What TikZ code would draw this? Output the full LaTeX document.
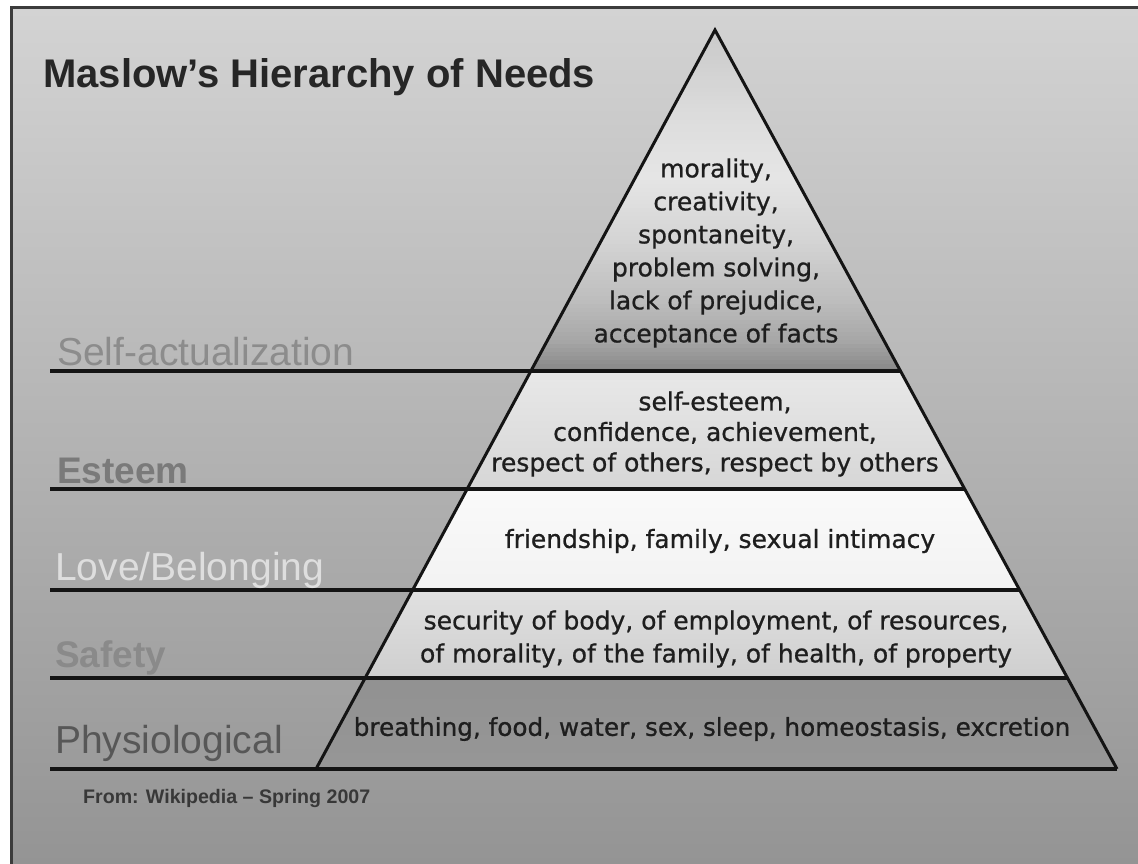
\documentclass[tikz,border=0pt]{standalone}
\usepackage{fontspec}
\setmainfont{Liberation Sans}
\newfontfamily\bandfont[FakeBold=0.8]{DejaVu Sans}
\usetikzlibrary{calc}

\definecolor{framegray}{HTML}{3C3C3C}
\definecolor{bgtop}{HTML}{D3D3D3}
\definecolor{bgbottom}{HTML}{949494}
\definecolor{inktext}{HTML}{1E1E1E}
\definecolor{titleink}{HTML}{262626}

\begin{document}
\begin{tikzpicture}[x=1pt,y=-1pt,
  rule/.style={line width=4.5pt, draw=black!92, line cap=butt},
  edge/.style={line width=3pt, draw=black!92, line join=miter},
  bandtext/.style={font=\bandfont\fontsize{25}{33}\selectfont, text=inktext, align=center, inner sep=0pt},
  levellabel/.style={anchor=base west, inner sep=0pt, font=\fontsize{39}{39}\selectfont},
  boldlabel/.style={anchor=base west, inner sep=0pt, font=\bfseries\fontsize{37}{37}\selectfont},
]
\useasboundingbox (0,0) rectangle (1138,864);

% page, gradient background and dark frame
\fill[white] (0,0) rectangle (1138,864);
\shade[top color=bgtop, bottom color=bgbottom] (13,9) rectangle (1138,864);
\fill[framegray] (10,6) rectangle (1138,9);
\fill[framegray] (10,6) rectangle (13,864);

% pyramid corners and the points where each level meets its sides
\coordinate (apex) at (715,30);
\coordinate (bl) at (316,769);
\coordinate (br) at (1117,769);
\coordinate (l1) at ($(apex)!0.4614!(bl)$);
\coordinate (r1) at ($(apex)!0.4614!(br)$);
\coordinate (l2) at ($(apex)!0.6211!(bl)$);
\coordinate (r2) at ($(apex)!0.6211!(br)$);
\coordinate (l3) at ($(apex)!0.7578!(bl)$);
\coordinate (r3) at ($(apex)!0.7578!(br)$);
\coordinate (l4) at ($(apex)!0.8769!(bl)$);
\coordinate (r4) at ($(apex)!0.8769!(br)$);
\coordinate (rulestart) at (50,0);

% top level: light behind the upper lines of text, darkening to its base
\begin{scope}
  \clip (apex) -- (r1) -- (l1) -- cycle;
  \foreach \yy in {28,32,...,372} {
    \pgfmathsetmacro\tone{\yy<110 ? 21-7*(\yy-30)/80 :
      (\yy<175 ? 14-4*(\yy-110)/65 :
      (\yy<240 ? 10+7*(\yy-175)/65 :
      (\yy<300 ? 17+9*(\yy-240)/60 :
      (\yy<340 ? 26+9*(\yy-300)/40 : 35+13*(\yy-340)/31))))}
    \fill[black!\tone] (500,\yy) rectangle (940,\yy+4.6);
  }
\end{scope}

% lower level fills
\shade[top color=black!9, bottom color=black!16] (l1) -- (r1) -- (r2) -- (l2) -- cycle;
\shade[top color=black!2, bottom color=black!5] (l2) -- (r2) -- (r3) -- (l3) -- cycle;
\shade[top color=black!12, bottom color=black!19] (l3) -- (r3) -- (r4) -- (l4) -- cycle;
\shade[top color=black!43, middle color=black!35, bottom color=black!41] (l4) -- (r4) -- (br) -- (bl) -- cycle;

% horizontal level rules
\draw[rule] (rulestart |- r1) -- (r1);
\draw[rule] (rulestart |- r2) -- (r2);
\draw[rule] (rulestart |- r3) -- (r3);
\draw[rule] (rulestart |- r4) -- (r4);
\draw[rule] (rulestart |- br) -- (br);

% pyramid sides
\draw[edge] (bl) -- (apex) -- (br);

% texts inside the pyramid
\node[bandtext] (selftext) at (716,253) {morality,\\creativity,\\spontaneity,\\problem solving,\\lack of prejudice,\\acceptance of facts};
\node[bandtext, font=\bandfont\fontsize{25}{30.5}\selectfont] (esteemtext) at (715,434) {self-esteem,\\confidence, achievement,\\respect of others, respect by others};
\node[bandtext] (lovetext) at (720,541) {friendship, family, sexual intimacy};
\node[bandtext] (safetytext) at (716,639) {security of body, of employment, of resources,\\of morality, of the family, of health, of property};
\node[bandtext, font=\bandfont\fontsize{24.7}{33}\selectfont] (physiotext) at (712,729) {breathing, food, water, sex, sleep, homeostasis, excretion};

% level names on the left
\node[levellabel, text=black!45] (selflabel) at (57,365) {Self-actualization};
\node[boldlabel, text=black!52] (esteemlabel) at (57,483) {Esteem};
\node[levellabel, text=black!13] (lovelabel) at (55,580) {Love/Belonging};
\node[boldlabel, text=black!46] (safetylabel) at (55,667) {Safety};
\node[levellabel, text=black!66] (physiolabel) at (55,753) {Physiological};

% title and source line
\node[anchor=base west, inner sep=0pt, text=titleink, font=\bfseries\fontsize{40}{40}\selectfont] (title) at (43,88) {Maslow's Hierarchy of Needs};
\node[anchor=base west, inner sep=0pt, text=black!78, font=\bfseries\fontsize{19.6}{19.6}\selectfont] (source) at (83,803) {From: Wikipedia – Spring 2007};
\end{tikzpicture}
\end{document}
